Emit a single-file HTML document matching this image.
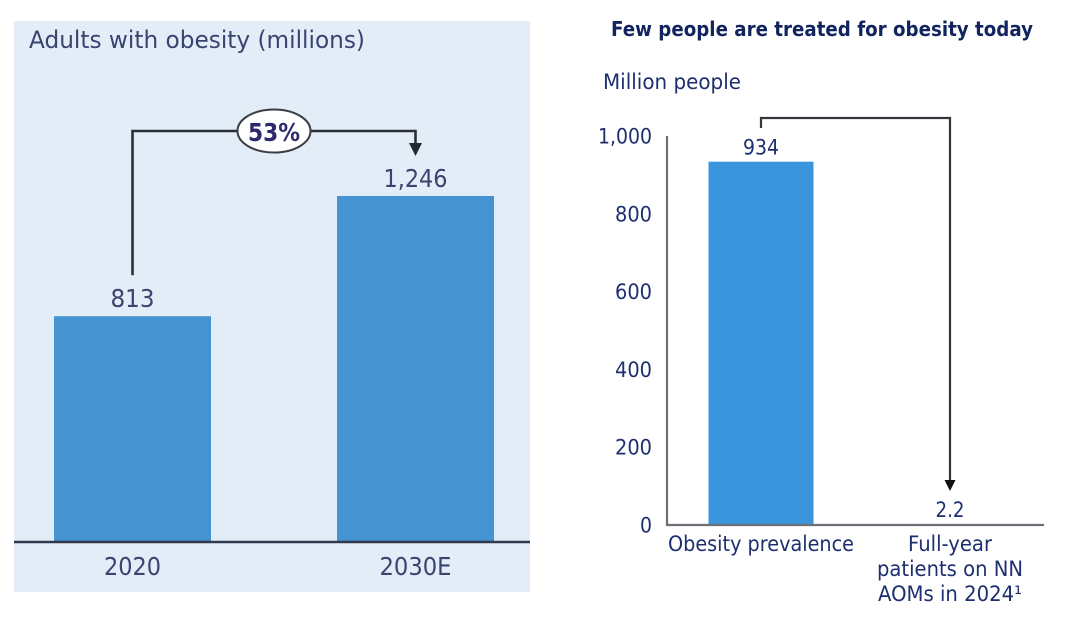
<!DOCTYPE html>
<html lang="en">
<head>
<meta charset="utf-8">
<title>Obesity charts</title>
<style>
html,body{margin:0;padding:0;background:#fff;width:1080px;height:618px;overflow:hidden}
svg{display:block;font-family:"DejaVu Sans","Liberation Sans",sans-serif}
</style>
</head>
<body>
<svg id="chart" xmlns="http://www.w3.org/2000/svg" width="1080" height="618" viewBox="0 0 1080 618">
  <rect x="14" y="21" width="516" height="571" fill="#e3edf7"/>
  <text x="29" y="48" font-size="24" textLength="336" lengthAdjust="spacingAndGlyphs" fill="#3a4470">Adults with obesity (millions)</text>
  <text x="611" y="36" font-size="20" font-weight="bold" textLength="422" lengthAdjust="spacingAndGlyphs" fill="#11245f">Few people are treated for obesity today</text>
  <text x="603" y="89" font-size="21" textLength="138" lengthAdjust="spacingAndGlyphs" fill="#1d2f6f">Million people</text>
  <g id="left-plot"></g>
  <g id="right-plot"></g>
</svg>
<script>
const leftCategories = ['2020', '2030E'];
const leftValues = [813, 1246];
const leftValueLabels = ['813', '1,246'];
const rightCategories = ['Obesity prevalence', 'Full-year patients on NN AOMs in 2024'];
const rightValues = [934, 2.2];
const rightValueLabels = ['934', '2.2'];
const rightTicks = [0, 200, 400, 600, 800, 1000];
const rightTickLabels = ['0', '200', '400', '600', '800', '1,000'];
const growthLabel = '53%';

const NS = 'http://www.w3.org/2000/svg';
function mk(parent, tag, attrs, text) {
  const el = document.createElementNS(NS, tag);
  for (const k in attrs) el.setAttribute(k, attrs[k]);
  if (text !== undefined) el.textContent = text;
  parent.appendChild(el);
  return el;
}

/* left chart */
const leftG = document.getElementById('left-plot');
const leftBase = 542;
const leftY = v => leftBase - v * (346 / 1246);
const leftX = i => 132.5 + i * 283;
const leftW = 157;
leftCategories.forEach((c, i) => {
  const y = leftY(leftValues[i]);
  const bar = mk(leftG, 'rect', {x: leftX(i) - leftW / 2, y: y, width: leftW, height: leftBase - y, fill: '#4593d1'});
  
  
  const val = mk(leftG, 'text', {x: leftX(i), y: y - 9, 'font-size': 25, 'text-anchor': 'middle', fill: '#3a4470', textLength: i ? 64 : 44, lengthAdjust: 'spacingAndGlyphs'}, leftValueLabels[i]);
  
  
  const cat = mk(leftG, 'text', {x: leftX(i), y: 575, 'font-size': 25, 'text-anchor': 'middle', fill: '#3a4470', textLength: i ? 72 : 57, lengthAdjust: 'spacingAndGlyphs'}, c);
  
  
});
const leftAxis = mk(leftG, 'line', {x1: 14, x2: 530, y1: leftBase, y2: leftBase, stroke: '#2f3a4d', 'stroke-width': 2.4});



const x0 = leftX(0), x1 = leftX(1);
const connY = 131;
const conn = mk(leftG, 'path', {d: `M${x0} ${leftY(leftValues[0]) - 41}V${connY}H${x1}V${leftY(leftValues[1]) - 50}`, fill: 'none', stroke: '#2b2f38', 'stroke-width': 2.6});


const arrowTop = leftY(leftValues[1]) - 50;
const head = mk(leftG, 'path', {d: `M${x1 - 6.5} ${arrowTop - 3}H${x1 + 6.5}L${x1} ${arrowTop + 10}Z`, fill: '#23272f'});


const oval = mk(leftG, 'ellipse', {cx: 274, cy: connY, rx: 36.5, ry: 21.5, fill: '#fff', stroke: '#3a3d45', 'stroke-width': 2});


const pct = mk(leftG, 'text', {x: 274, y: 141, 'font-size': 25, 'font-weight': 'bold', 'text-anchor': 'middle', fill: '#2c2a6b', textLength: 52, lengthAdjust: 'spacingAndGlyphs'}, growthLabel);



/* right chart */
const rightG = document.getElementById('right-plot');
const rightBase = 525;
const rightY = v => rightBase - v * (389 / 1000);
const rightX = i => 761 + i * 189;
const rightW = 105;
rightTicks.forEach((t, i) => {
  const lab = mk(rightG, 'text', {x: 652, y: rightY(t) + 7.5, 'font-size': 21, 'text-anchor': 'end', fill: '#1d2f6f', textLength: [12, 37, 37, 37, 37, 54][i], lengthAdjust: 'spacingAndGlyphs'}, rightTickLabels[i]);
  
  
});
rightCategories.forEach((c, i) => {
  const y = rightY(rightValues[i]);
  const bar = mk(rightG, 'rect', {x: rightX(i) - rightW / 2, y: y, width: rightW, height: rightBase - y, fill: i ? '#2f5f9e' : '#3b95dc'});
  
  
  const val = mk(rightG, 'text', {x: rightX(i), y: y - 7, 'font-size': 21, 'text-anchor': 'middle', fill: '#1d2f6f', textLength: i ? 29 : 36, lengthAdjust: 'spacingAndGlyphs'}, rightValueLabels[i]);
  
  
});
const catA = mk(rightG, 'text', {x: rightX(0), y: 551, 'font-size': 21, 'text-anchor': 'middle', fill: '#1d2f6f', textLength: 186, lengthAdjust: 'spacingAndGlyphs'}, 'Obesity prevalence');


[['Full-year', 84, 551], ['patients on NN', 146, 576], ['AOMs in 2024¹', 144, 601]].forEach(line => {
  const t = mk(rightG, 'text', {x: rightX(1), y: line[2], 'font-size': 21, 'text-anchor': 'middle', fill: '#1d2f6f', textLength: line[1], lengthAdjust: 'spacingAndGlyphs'}, line[0]);
  
  
});
const rightAxis = mk(rightG, 'path', {d: `M667 ${rightY(1000)}V${rightBase}H1044`, fill: 'none', stroke: '#6c6f76', 'stroke-width': 2.2});


const rConn = mk(rightG, 'path', {d: `M${rightX(0)} 128V118H${rightX(1)}V482`, fill: 'none', stroke: '#33363d', 'stroke-width': 2.2});


const rHead = mk(rightG, 'path', {d: `M${rightX(1) - 5.5} 480H${rightX(1) + 5.5}L${rightX(1)} 491Z`, fill: '#111'});


</script>
</body>
</html>
